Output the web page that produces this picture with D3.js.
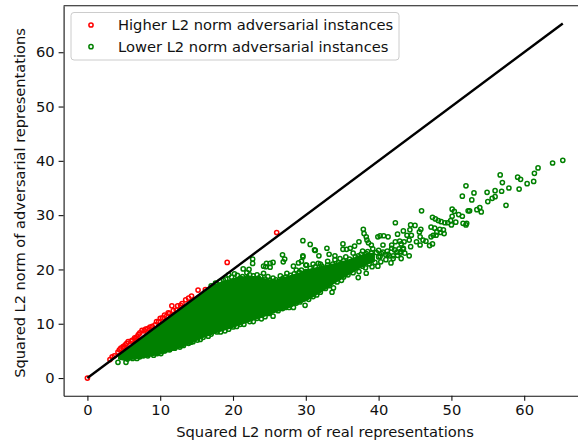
<!DOCTYPE html>
<meta charset="utf-8">
<style>
    body { margin: 0; background: white; }
    svg { display: block; }
    text { font-family: "DejaVu Sans"; fill: #111; }
    .tick text { font-size: 14.7px; }
    .tick line, .domain { stroke: #111; stroke-width: 1.1; }
    .pt { fill: none; stroke-width: 1.5; }
</style>

<body>
    <svg width="578" height="444"></svg>
    <script src="https://d3js.org/d3.v7.min.js"></script>
    <script>
        var xTicks = [0, 10, 20, 30, 40, 50, 60];
        var yTicks = [0, 10, 20, 30, 40, 50, 60];
        var legendLabels = ["Higher L2 norm adversarial instances", "Lower L2 norm adversarial instances"];
        var lineEnds = [0, 65.3];

        // thousands of markers merge into a solid mass here and can't be read one by one,
        // so the mass is drawn from its outline
        var massX = [4.2, 5, 6, 7, 8, 9, 10, 11, 12, 13, 14, 15, 16, 17, 18, 19, 20, 21, 22, 23, 24, 25, 26, 27, 28, 29, 30, 32, 34, 36, 38, 39.5];
        var massLow = [3.4, 3.2, 3.3, 3.5, 3.8, 4, 4.3, 4.7, 5.1, 5.6, 6.2, 6.8, 7.4, 7.9, 8.4, 8.8, 9.2, 9.7, 10.2, 10.7, 11.1, 11.6, 12.1, 12.6, 13, 13.7, 14.1, 15.6, 17.4, 19, 20.6, 21.4];
        var massHigh = [4.2, 5, 6, 7, 8, 9, 10, 11, 12, 13, 14, 15, 16, 17, 17.6, 18, 18.4, 18.7, 18.8, 18.8, 18.5, 18.2, 18.2, 18.6, 19, 19.4, 20, 20.6, 21.2, 21.9, 22.9, 23.1];

        var higherPoints = [[0, 0], [3.1, 3.4], [3.4, 3.9], [3.7, 4.1], [4.2, 4.8], [4.4, 5.2], [4.6, 5.5], [4.9, 5.8], [5, 5.7], [5.2, 6.1], [5.4, 6.4], [5.6, 6.7], [6, 6.8], [6.2, 7], [6.5, 7.4], [6.6, 7.2], [6.8, 7.6], [7, 8], [7.2, 8.3], [7.5, 8.8], [7.8, 8.7], [8, 9], [8.3, 9.1], [8.6, 9.4], [8.9, 9.5], [9.3, 9.8], [9.5, 10.4], [9.8, 10.4], [10, 11], [10.3, 11.1], [10.6, 11.6], [10.9, 11.4], [11.1, 12], [11.3, 11.9], [11.6, 13.3], [11.8, 12.4], [12.2, 12.5], [12.4, 13.3], [12.8, 13.4], [13, 13.7], [13.5, 14.4], [13.9, 14.7], [14.3, 15.1], [15.2, 16.2], [16.2, 16.3], [19.2, 21.3], [26, 26.8]];

        var lowerTail = [[65.3, 40.1], [63.9, 39.6], [61.9, 38.7], [61.4, 37.7], [61.3, 36.2], [60.4, 35.8], [59.5, 36.6], [59.1, 37], [59.3, 34.8], [57.9, 35], [57.5, 31.8], [57, 36], [56.7, 37.4], [56.9, 34.4], [56, 34.5], [56, 33.4], [55.6, 33.1], [55, 32.5], [54.9, 34.2], [53.1, 34.1], [52.8, 32.8], [52, 35.4], [51.5, 33.5], [53.9, 31.4], [54.1, 30.6], [53.5, 31], [52.3, 30.8], [52.5, 30.8], [50.1, 31.1], [50.4, 30.7], [51, 30.1], [51.5, 29.8], [50.1, 29.8], [45.9, 30.8], [47.4, 29.6], [47.8, 29.3], [48.2, 29], [48.6, 28.8], [49.1, 28.6], [49.5, 28.6], [49.9, 29], [50, 28.2], [50.6, 28.7], [51.6, 28.5], [52, 28.2], [52.1, 28.5], [47.2, 27.8], [47.7, 27.6], [48, 26.9], [48.4, 27.4], [48.9, 27.3], [49, 26.6], [48.5, 26.8], [47.5, 26.3], [47.2, 26], [47.9, 26.3], [44.4, 28.2], [45, 28.1], [43.4, 27.1], [45.8, 27.4], [45.6, 26.9], [44.3, 27.3], [43.9, 26.3], [44.5, 26.3], [45.7, 26], [46.1, 25.4], [45.2, 25.1], [44.2, 25.4], [43.5, 25.1], [42.9, 25.2], [46.5, 25.2], [45.7, 24.5], [47, 24.4], [47.4, 24.7], [44.4, 24.2], [43.4, 23.9]];

        var lowerMiddle = [[42.3, 28.6], [37.9, 27.4], [38, 26.6], [38.3, 26], [38.4, 25.4], [40.2, 26.2], [39.9, 26], [40.7, 26.2], [41.3, 26], [42.6, 26.5], [29.6, 25.3], [30.6, 24.6], [31.2, 23.6], [32.9, 23.9], [35.1, 24.7], [37.3, 25.1], [35.1, 23.7], [36.7, 24.3], [29.6, 22.3], [31.8, 22.5], [33.2, 22.8], [34, 22.5], [35.6, 23.7], [36.1, 23.9], [38.6, 24.9], [39, 24.5], [40.6, 24.5], [41.8, 24.5], [42.3, 25.1], [43.1, 24.7], [43.4, 23.7], [44.2, 22.5], [43.1, 22], [41.7, 21.2], [39.9, 20.6], [39.1, 20.5], [38.2, 20.3], [38.3, 19.3], [37.3, 19.6], [37.2, 18.5], [34.9, 18], [33.8, 16.6], [33.6, 15.8], [31.5, 15.3], [35.5, 22.3], [36.5, 23], [37.2, 22.5], [37.8, 23.4], [38.5, 23.3], [39.2, 23.8], [40, 23.5], [40.6, 23.2], [41.2, 23.4], [41.8, 23.9], [42.5, 23.2], [43, 23.3], [41, 22.7], [42, 22.5], [40, 22.3], [39, 21.8], [33, 21.5], [34, 21.8], [34.7, 22], [32, 21], [31, 21], [30, 20.8], [29, 21.2], [28.3, 20.6], [40.2, 22.4], [41.5, 22.5], [43, 23]];

        var lowerUpperEdge = [[26.8, 22.7], [22.7, 21.9], [22.7, 21.1], [27.1, 21.9], [26.9, 21.4], [29.6, 22.5], [29.4, 21.5], [31.3, 23.5], [24.6, 21.1], [25.1, 21.1], [24.5, 20.5], [24.2, 20.6], [25.5, 21.3], [25.1, 20.4], [21.4, 20.1], [22.2, 20], [20.2, 19.2], [21.9, 19.4], [24.2, 19.3], [24.8, 18.7], [25.5, 18.4], [26.5, 18.8], [27.4, 19.3], [28.7, 19.9], [29.4, 19.9], [30.1, 20.8], [31.7, 21.1], [19.4, 19], [18.7, 18], [23.5, 18.4], [21, 18.4], [22.3, 19], [23.3, 19], [17, 17], [17.6, 17.5], [18.2, 17.8], [19, 18.2], [19.8, 18.6], [20.6, 18.9], [21.3, 18.7], [22, 18.5], [22.8, 18.8], [23.8, 18.7], [24.4, 18.2], [25.1, 18], [25.9, 18.1], [26.8, 18.3], [27.2, 18.6], [27.9, 18.9], [28.4, 19.2], [29.1, 19.5], [30, 19.6], [30.6, 20.2], [31.3, 20.5], [32.2, 20.6], [33, 20.8], [33.7, 21], [34.5, 21.2], [35.2, 21.6], [36, 21.9], [36.8, 22.3], [37.6, 22.8], [38.3, 22.9], [39, 23], [39.7, 23.1], [40.4, 22.9], [41.3, 22.8], [42.2, 23.6], [42.8, 23.8]];

        var lowerBottomEdge = [[29.9, 13.4], [29.2, 14], [28.3, 13], [27.7, 13], [26.8, 12.8], [25.5, 11.4], [24.9, 11.9], [23.9, 10.9], [22.8, 10.4], [23.3, 11], [21, 9.9], [20, 9.4], [18.9, 8.7], [17.8, 8.5], [16.6, 7.7], [15.5, 7.1], [14.5, 6.7], [4.2, 2.9], [5.3, 2.9], [6.8, 3.6], [7.7, 4.1], [9.1, 4.2], [10.1, 4.5], [11.3, 5.2], [12.7, 5.7], [13.9, 6.4], [15.1, 7], [5.5, 3.5], [6.2, 3.6], [7.2, 3.9], [8.3, 4.1], [9.6, 4.5], [10.6, 5], [12, 5.5], [13.2, 6], [14.2, 6.6], [15.9, 7.5], [17, 8.1], [18.3, 8.5], [19.4, 9], [20.5, 9.5], [21.5, 9.9], [22.3, 10.4], [24.4, 11.3], [25, 12], [26.2, 12.4], [27.2, 13], [28.7, 13.8], [30.4, 14.5], [31, 15], [32, 15.8], [32.7, 16.5], [33.2, 17], [34.3, 17.7], [35.2, 18.6], [35.8, 19], [36.5, 19.4], [37.8, 20.6], [38.7, 21], [39.5, 21.3], [40.3, 21.4], [41, 21.8], [42, 22], [42.6, 22.6], [43.6, 23]];

        var lowerPoints = lowerTail.concat(lowerMiddle, lowerUpperEdge, lowerBottomEdge);

        var svg = d3.select("svg");
        var x = d3.scaleLinear().domain([-3.27, 68.57]).range([63.6, 586.6]);
        var y = d3.scaleLinear().domain([-3.27, 68.57]).range([395.8, 5.7]);

        svg.append("g").attr("transform", "translate(0,395.8)")
            .call(d3.axisBottom(x).tickValues(xTicks).tickSize(5).tickPadding(4).tickSizeOuter(0));
        svg.append("g").attr("transform", "translate(63.6,0)")
            .call(d3.axisLeft(y).tickValues(yTicks).tickSize(5).tickPadding(4).tickSizeOuter(0));
        svg.append("line").attr("x1", 63.6).attr("x2", 586.6).attr("y1", 5.7).attr("y2", 5.7)
            .attr("stroke", "#111").attr("stroke-width", 1.1);

        svg.append("g").selectAll("circle").data(higherPoints).enter().append("circle")
            .attr("class", "pt").attr("r", 2.1).attr("stroke", "#ff0000")
            .attr("cx", function(d) { return x(d[0]); })
            .attr("cy", function(d) { return y(d[1]); });

        var massArea = d3.area()
            .x(function(d, i) { return x(massX[i]); })
            .y0(function(d, i) { return y(massLow[i]); })
            .y1(function(d, i) { return y(massHigh[i]); });
        svg.append("path").attr("d", massArea(massX)).attr("fill", "#008000");

        svg.append("g").selectAll("circle").data(lowerPoints).enter().append("circle")
            .attr("class", "pt").attr("r", 2.1).attr("stroke", "#008000")
            .attr("cx", function(d) { return x(d[0]); })
            .attr("cy", function(d) { return y(d[1]); });

        svg.append("line")
            .attr("x1", x(lineEnds[0])).attr("y1", y(lineEnds[0]))
            .attr("x2", x(lineEnds[1])).attr("y2", y(lineEnds[1]))
            .attr("stroke", "black").attr("stroke-width", 2.4);

        svg.append("text").attr("x", 325).attr("y", 437).attr("text-anchor", "middle")
            .style("font-size", "14.7px").text("Squared L2 norm of real representations");
        svg.append("text").attr("transform", "translate(25,203) rotate(-90)").attr("text-anchor", "middle")
            .style("font-size", "14.6px").text("Squared L2 norm of adversarial representations");

        svg.append("rect").attr("x", 71).attr("y", 12.5).attr("width", 328).attr("height", 47.5).attr("rx", 3)
            .attr("fill", "white").attr("stroke", "#cccccc");
        var legendColors = ["#ff0000", "#008000"];
        legendLabels.forEach(function(label, i) {
            var ly = 25 + i * 21.7;
            svg.append("circle").attr("class", "pt").attr("r", 2.1).attr("cx", 91).attr("cy", ly).attr("stroke", legendColors[i]);
            svg.append("text").attr("x", 118).attr("y", ly + 5).style("font-size", "14.7px").text(label);
        });
    </script>
</body>
